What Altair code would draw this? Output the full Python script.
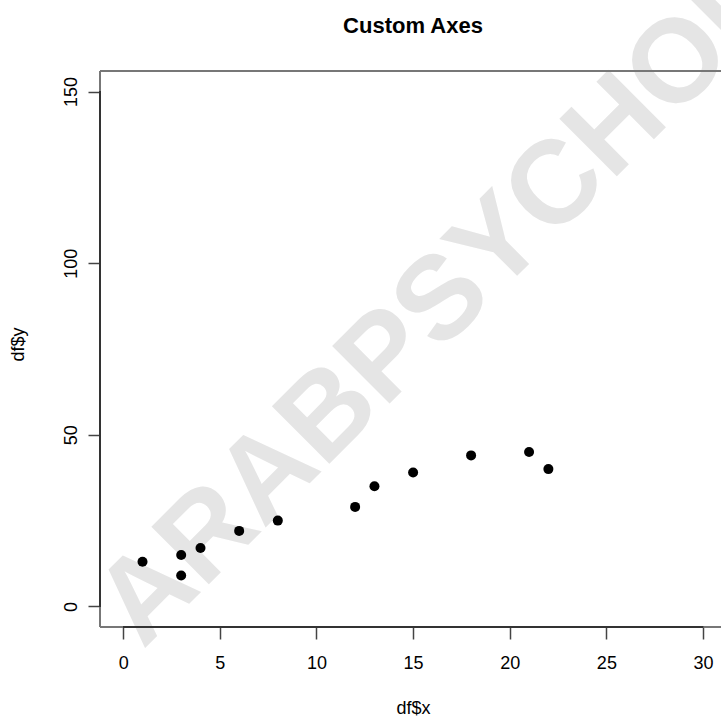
import altair as alt
import pandas as pd

# ---- data ----
x_vals = [1, 3, 3, 4, 6, 8, 12, 13, 15, 18, 21, 22]
y_vals = [13, 15, 9, 17, 22, 25, 29, 35, 39, 44, 45, 40]
x_ticks = [0, 5, 10, 15, 20, 25, 30]
y_ticks = [0, 50, 100, 150]
title_text = ["Custom Axes"]
x_label = "df$x"
y_label = "df$y"
watermark_text = ["ARABPSYCHOLOGY"]

df = pd.DataFrame({"x": x_vals, "y": y_vals})
wm = pd.DataFrame({"t": watermark_text})
tt = pd.DataFrame({"t": title_text})

W, H = 621, 556
FONT = "Liberation Sans"

x_scale = alt.Scale(domain=[-1.2, 30.93], nice=False, zero=False)
y_scale = alt.Scale(domain=[-6, 156], nice=False, zero=False)

x_axis = alt.Axis(
    values=x_ticks, title=x_label, domain=False, grid=False,
    tickSize=12, tickColor="#444", tickWidth=1.5,
    labelFont=FONT, labelFontSize=18, labelColor="#000", labelPadding=15,
    labelBaseline="top", labelAlign="center", labelFlush=False, labelOverlap=False,
    titleFont=FONT, titleFontSize=18, titleFontWeight="normal", titleColor="#000",
    titleX=313, titleY=86, titleBaseline="alphabetic", titleAlign="center",
)
y_axis = alt.Axis(
    values=y_ticks, title=y_label, domain=False, grid=False,
    tickSize=12, tickColor="#444", tickWidth=1.5,
    labelFont=FONT, labelFontSize=18, labelColor="#000", labelPadding=12,
    labelAngle=270, labelBaseline="alphabetic", labelAlign="center",
    labelFlush=False, labelOverlap=False,
    titleFont=FONT, titleFontSize=18, titleFontWeight="normal", titleColor="#000",
    titleAngle=270, titleX=-77, titleY=273, titleBaseline="alphabetic", titleAlign="center",
)

base = alt.Chart(df)

watermark = alt.Chart(wm).mark_text(
    angle=315, align="left", baseline="alphabetic", font=FONT,
    fontSize=118, fontWeight="bold", color="#e5e5e5",
).encode(x=alt.value(43), y=alt.value(579), text="t:N")

title = alt.Chart(tt).mark_text(
    align="center", baseline="alphabetic", font=FONT,
    fontSize=22, fontWeight="bold", color="#000",
).encode(x=alt.value(313), y=alt.value(-38), text="t:N")

frame_top = base.mark_rule(color="#777", strokeWidth=2).encode(
    x=alt.value(0), x2=alt.value(W), y=alt.value(0))
frame_left = base.mark_rule(color="#777", strokeWidth=2).encode(
    x=alt.value(0), y=alt.value(0), y2=alt.value(H))
frame_bottom = base.mark_rule(color="#777", strokeWidth=2).encode(
    x=alt.value(0), x2=alt.value(W), y=alt.value(H))

axis_left = base.mark_rule(color="#333", strokeWidth=2).encode(
    x=alt.value(0),
    y=alt.YDatum(0, scale=y_scale, axis=y_axis),
    y2=alt.Y2Datum(150),
)
axis_bottom = base.mark_rule(color="#333", strokeWidth=2).encode(
    y=alt.value(H),
    x=alt.XDatum(0, scale=x_scale, axis=x_axis),
    x2=alt.X2Datum(30),
)

points = base.mark_circle(size=100, color="black", opacity=1).encode(
    x=alt.X("x:Q", scale=x_scale, axis=x_axis),
    y=alt.Y("y:Q", scale=y_scale, axis=y_axis),
)

chart = alt.layer(
    watermark, title, frame_top, frame_left, frame_bottom,
    axis_left, axis_bottom, points
).properties(
    width=W, height=H,
    padding={"left": 100, "top": 71, "right": 0, "bottom": 90},
    autosize="none",
).configure_view(stroke=None).configure(background="white")

chart.save("out.html", embed_options={"renderer": "svg", "actions": False})
